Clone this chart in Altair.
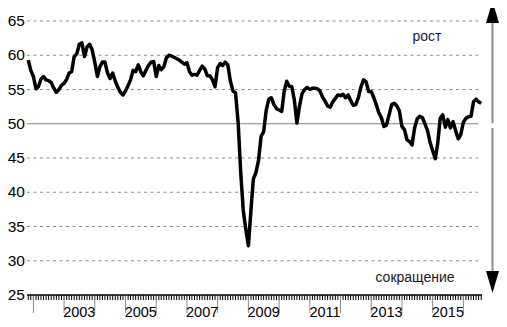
import altair as alt
import pandas as pd

# ---- data (monthly index values) ----
first_month = "2001-11-01"
values = [
    59.3, 57.8,
    56.9, 55.1, 55.4, 56.5, 56.9, 56.4, 56.3, 56.0, 55.2, 54.6, 55.0, 55.6,  # 2002
    55.9, 56.5, 57.4, 57.6, 59.8, 60.2, 61.6, 61.8, 59.8, 61.2, 61.6, 60.8,  # 2003
    59.0, 56.9, 58.3, 59.0, 59.0, 57.4, 56.6, 57.4, 56.2, 55.3, 54.6, 54.2,  # 2004
    54.8, 55.6, 56.4, 57.8, 57.6, 58.6, 57.6, 57.0, 57.8, 58.5, 59.0, 59.1,  # 2005
    56.9, 58.5, 57.9, 58.3, 59.6, 60.0, 59.9, 59.7, 59.5, 59.3, 59.0, 58.7,  # 2006
    58.9, 57.6, 57.1, 57.2, 57.1, 57.8, 58.4, 58.0, 57.0, 57.0, 56.4, 55.4,  # 2007
    58.2, 58.8, 58.5, 59.0, 58.6, 56.2, 54.8, 54.5, 50.2, 43.0, 37.3, 34.6,  # 2008
    32.2, 37.5, 41.9, 42.9, 44.6, 48.2, 48.8, 52.0, 53.6, 53.8, 52.8, 52.2,  # 2009
    52.0, 51.8, 54.6, 56.2, 55.5, 55.4, 53.5, 50.1, 52.6, 54.4, 55.0, 55.3,  # 2010
    55.0, 55.2, 55.2, 55.1, 54.8, 53.9, 53.3, 52.6, 52.4, 53.2, 53.7, 54.2,  # 2011
    54.1, 54.3, 53.8, 54.2, 53.4, 52.7, 52.8, 53.8, 55.4, 56.4, 56.1, 54.7,  # 2012
    54.7, 53.8, 52.8, 51.6, 50.9, 49.6, 49.8, 51.3, 52.8, 53.0, 52.6, 51.9,  # 2013
    49.6, 49.1, 47.7, 47.4, 46.9, 49.4, 50.7, 51.1, 50.9, 50.0, 49.0, 47.3,  # 2014
    46.1, 44.9, 47.0, 50.8, 51.3, 49.5, 50.6, 49.4, 50.3, 49.0, 47.8, 48.4,  # 2015
    50.2, 50.8, 51.0, 51.1, 53.2, 53.6, 53.2, 53.0,                          # 2016
]
y_ticks = [25, 30, 35, 40, 45, 50, 55, 60, 65]
dashed_levels = [30, 35, 40, 45, 55, 60, 65]
solid_levels = [50]
year_starts = [f"{y}-01-01" for y in range(2002, 2017)]
year_labels = ["2003", "2005", "2007", "2009", "2011", "2013", "2015"]
label_up = "рост"
label_down = "сокращение"

dates = pd.date_range(first_month, periods=len(values), freq="MS")
df = pd.DataFrame({"date": dates.strftime("%Y-%m-%d"), "value": values})
month_df = pd.DataFrame({"date": pd.date_range("2001-11-01", "2016-08-01", freq="MS").strftime("%Y-%m-%d")})
ylab_df = pd.DataFrame({"level": y_ticks, "label": [str(v) for v in y_ticks]})
xlab_df = pd.DataFrame({"date": [f"{y}-07-01" for y in year_labels], "label": year_labels})

W, H = 455, 274
FONT = "Liberation Sans"

xscale = alt.Scale(type="utc", domain=[
    alt.DateTime(year=2001, month=10, date=17, utc=True),
    alt.DateTime(year=2016, month=8, date=10, utc=True)])
yscale = alt.Scale(domain=[25, 65], nice=False, zero=False)
X = lambda: alt.X("date:T", scale=xscale, axis=None)

line = alt.Chart(df).mark_line(color="black", strokeWidth=3.5, strokeJoin="round").encode(
    x=X(), y=alt.Y("value:Q", scale=yscale, axis=None))

grid_dashed = alt.Chart(pd.DataFrame({"level": dashed_levels})).mark_rule(
    color="#8c8c8c", strokeWidth=1, strokeDash=[3, 3.5]).encode(
    y=alt.Y("level:Q", scale=yscale, axis=None),
    x=alt.value(0), x2=alt.value(W - 4))
grid_solid = alt.Chart(pd.DataFrame({"level": solid_levels})).mark_rule(
    color="#808080", strokeWidth=1).encode(
    y=alt.Y("level:Q", scale=yscale, axis=None),
    x=alt.value(0), x2=alt.value(W - 4))

y_labels = alt.Chart(ylab_df).mark_text(
    font=FONT, fontSize=15.5, color="black", align="right", baseline="middle").encode(
    y=alt.Y("level:Q", scale=yscale, axis=None), x=alt.value(-2), text="label:N")

x_domain = alt.Chart(pd.DataFrame({"a": [0]})).mark_rule(color="black", strokeWidth=1.5).encode(
    x=alt.value(0), x2=alt.value(W), y=alt.value(H))
month_ticks = alt.Chart(month_df).mark_rule(color="black", strokeWidth=1).encode(
    x=X(), y=alt.value(H), y2=alt.value(H + 5))
year_ticks = alt.Chart(pd.DataFrame({"date": year_starts})).mark_rule(strokeWidth=1).encode(
    x=X(), y=alt.value(H), y2=alt.value(H + 18),
    color=alt.condition("datum.date == '2002-01-01'", alt.value("black"), alt.value("#8c8c8c")))
x_labels = alt.Chart(xlab_df).mark_text(
    font=FONT, fontSize=14.5, color="black", align="center", baseline="middle").encode(
    x=X(), y=alt.value(H + 18), text="label:N")

AX = 465.5
arrow_up_line = alt.Chart(pd.DataFrame({"a": [0]})).mark_rule(color="#8c8c8c", strokeWidth=2).encode(
    x=alt.value(AX), y=alt.value(0), y2=alt.value(102))
arrow_dn_line = alt.Chart(pd.DataFrame({"a": [0]})).mark_rule(color="#8c8c8c", strokeWidth=2).encode(
    x=alt.value(AX), y=alt.value(107), y2=alt.value(253))
head_up = alt.Chart(pd.DataFrame({"a": [0]})).mark_point(
    shape="M0,-1.7L1,1.7L-1,1.7Z", filled=True, color="black", opacity=1, size=169).encode(
    x=alt.value(AX), y=alt.value(-9))
head_dn = alt.Chart(pd.DataFrame({"a": [0]})).mark_point(
    shape="M0,1.7L1,-1.7L-1,-1.7Z", filled=True, color="black", opacity=1, size=169).encode(
    x=alt.value(AX), y=alt.value(261))

txt_up = alt.Chart(pd.DataFrame({"t": [label_up]})).mark_text(
    font=FONT, fontSize=14, color="#1a1a40", align="center", baseline="middle").encode(
    text="t:N", x=alt.value(400), y=alt.value(16))
txt_dn = alt.Chart(pd.DataFrame({"t": [label_down]})).mark_text(
    font=FONT, fontSize=14, color="#1a1a1a", align="center", baseline="middle").encode(
    text="t:N", x=alt.value(388), y=alt.value(257))

chart = alt.layer(
    grid_dashed, grid_solid, y_labels, month_ticks, year_ticks, x_domain, x_labels, line,
    arrow_up_line, arrow_dn_line, head_up, head_dn, txt_up, txt_dn
).properties(
    width=W, height=H,
    autosize=alt.AutoSizeParams(type="none"),
    padding={"left": 19, "top": 13, "right": 17, "bottom": 24},
    background="white",
).configure_view(stroke=None)

chart.save("out.html", embed_options={"renderer": "svg", "actions": False})
